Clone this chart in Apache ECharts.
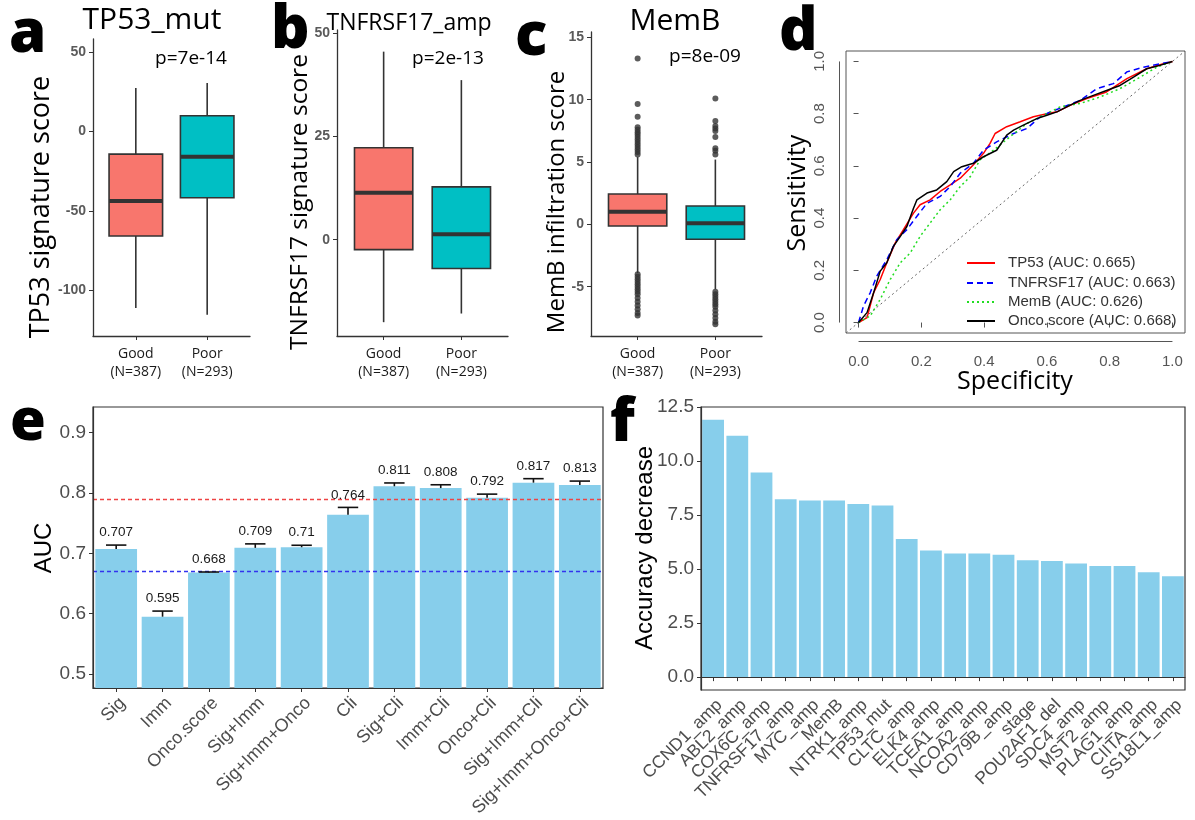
<!DOCTYPE html>
<html>
<head>
<meta charset="utf-8">
<script src="https://cdn.jsdelivr.net/npm/echarts@6/dist/echarts.min.js"></script>
<style>
html,body{margin:0;padding:0;background:#fff;}
#chart{width:1195px;height:820px;}
</style>
</head>
<body>
<div id="chart"></div>
<script>
// ---------- DATA ----------
const boxCategories = ['Good\n(N=387)', 'Poor\n(N=293)'];
const boxFill = ['#F8766D', '#00BFC4'];
// [min, Q1, median, Q3, max]
const tp53Stats = [[-111.0, -65.7, -43.7, -14.2, 27.4], [-115.2, -41.6, -15.8, 9.9, 30.5]];
const tnfStats = [[-20.0, -2.4, 11.4, 22.3, 45.6], [-17.9, -7.0, 1.3, 12.8, 38.7]];
const membStats = [[-3.9, -0.13, 1.02, 2.44, 5.4], [-5.2, -1.19, 0.09, 1.48, 5.2]];
const membGoodOutliers = [13.3, 9.65, 8.64, 7.8, 7.6, 7.4, 7.2, 7.0, 6.8, 6.6, 6.4, 6.2, 6.0, 5.8, 5.6,
  -4.0, -4.2, -4.4, -4.6, -4.8, -5.0, -5.2, -5.4, -5.6, -5.9, -6.2, -6.5, -6.8, -7.1, -7.3];
const membPoorOutliers = [10.1, 8.3, 7.9, 7.7, 7.5, 7.0, 6.1, 5.9, 5.6,
  -5.4, -5.6, -5.8, -6.0, -6.2, -6.4, -6.6, -6.9, -7.2, -7.5, -7.8, -8.0];
const tp53Ticks = [-100, -50, 0, 50];
const tnfTicks = [0, 25, 50];
const membTicks = [-5, 0, 5, 10, 15];
const pValues = ['p=7e-14', 'p=2e-13', 'p=8e-09'];
const boxTitles = ['TP53_mut', 'TNFRSF17_amp', 'MemB'];
const boxYTitles = ['TP53 signature score', 'TNFRSF17 signature score', 'MemB infiltration score'];

// ROC curves [x, sensitivity]
const rocTP53 = [[0,0],[0.027,0.019],[0.037,0.064],[0.048,0.114],[0.069,0.165],[0.09,0.229],[0.117,0.305],[0.143,0.356],[0.175,0.419],[0.196,0.451],[0.228,0.47],[0.26,0.502],[0.292,0.527],[0.324,0.553],[0.366,0.604],[0.398,0.648],[0.419,0.686],[0.435,0.724],[0.472,0.75],[0.515,0.769],[0.557,0.788],[0.6,0.8],[0.632,0.807],[0.674,0.832],[0.727,0.858],[0.79,0.883],[0.855,0.934],[0.918,0.972],[0.971,0.991],[1,1]];
const rocTNF = [[0,0],[0.016,0.064],[0.037,0.114],[0.058,0.178],[0.09,0.241],[0.122,0.318],[0.154,0.356],[0.186,0.407],[0.218,0.457],[0.26,0.483],[0.292,0.521],[0.324,0.572],[0.366,0.61],[0.398,0.66],[0.44,0.692],[0.494,0.724],[0.536,0.743],[0.579,0.788],[0.611,0.807],[0.653,0.826],[0.706,0.851],[0.759,0.896],[0.812,0.915],[0.855,0.96],[0.908,0.978],[0.96,0.991],[1,1]];
const rocMemB = [[0,0],[0.037,0.025],[0.069,0.089],[0.101,0.165],[0.133,0.229],[0.165,0.267],[0.196,0.33],[0.228,0.381],[0.26,0.432],[0.292,0.47],[0.324,0.521],[0.356,0.559],[0.387,0.623],[0.43,0.66],[0.483,0.712],[0.536,0.762],[0.589,0.794],[0.642,0.826],[0.706,0.839],[0.77,0.864],[0.833,0.896],[0.897,0.94],[0.95,0.978],[1,1]];
const rocOnco = [[0,0],[0.027,0.038],[0.048,0.114],[0.069,0.197],[0.09,0.229],[0.111,0.292],[0.133,0.33],[0.154,0.368],[0.175,0.438],[0.186,0.47],[0.218,0.496],[0.249,0.508],[0.281,0.54],[0.303,0.578],[0.329,0.597],[0.366,0.61],[0.398,0.635],[0.44,0.66],[0.472,0.718],[0.494,0.737],[0.525,0.756],[0.568,0.781],[0.6,0.794],[0.632,0.807],[0.663,0.826],[0.706,0.851],[0.748,0.87],[0.79,0.889],[0.833,0.908],[0.876,0.94],[0.918,0.972],[0.96,0.985],[1,1]];
const rocNames = ['TP53 (AUC: 0.665)', 'TNFRSF17 (AUC: 0.663)', 'MemB (AUC: 0.626)', 'Onco.score (AUC: 0.668)'];
const rocColors = ['#ff0000', '#0000ff', '#22dd22', '#000000'];
const rocTicks = [0, 0.2, 0.4, 0.6, 0.8, 1.0];

// AUC panel
const aucCats = ['Sig', 'Imm', 'Onco.score', 'Sig+Imm', 'Sig+Imm+Onco', 'Cli', 'Sig+Cli', 'Imm+Cli', 'Onco+Cli', 'Sig+Imm+Cli', 'Sig+Imm+Onco+Cli'];
const aucValues = [0.707, 0.595, 0.668, 0.709, 0.71, 0.764, 0.811, 0.808, 0.792, 0.817, 0.813];
const aucErr = [0.0066, 0.0093, 0.001, 0.0066, 0.0033, 0.012, 0.0055, 0.0055, 0.006, 0.0066, 0.0066];
const aucRefRed = 0.792;
const aucRefBlue = 0.668;
const aucTicks = [0.5, 0.6, 0.7, 0.8, 0.9];

// Importance panel
const impCats = ['CCND1_amp', 'ABL2_amp', 'COX6C_amp', 'TNFRSF17_amp', 'MYC_amp', 'MemB', 'NTRK1_amp', 'TP53_mut', 'CLTC_amp', 'ELK4_amp', 'TCEA1_amp', 'NCOA2_amp', 'CD79B_amp', 'stage', 'POU2AF1_del', 'SDC4_amp', 'MST2_amp', 'PLAG1_amp', 'CIITA_amp', 'SS18L1_amp'];
const impValues = [11.91, 11.17, 9.47, 8.23, 8.18, 8.18, 8.01, 7.94, 6.40, 5.86, 5.72, 5.72, 5.66, 5.41, 5.38, 5.26, 5.15, 5.15, 4.86, 4.67];
const impTicks = [0, 2.5, 5, 7.5, 10, 12.5];

// ---------- CHART ----------
const chart = echarts.init(document.getElementById('chart'), null, {renderer: 'canvas'});
const SANS = 'Liberation Sans';
const OPEN = 'Open Sans';

const grids = [
  {left: 93, top: 39, width: 157, height: 297},
  {left: 337, top: 30, width: 171, height: 306},
  {left: 591, top: 32, width: 171, height: 304},
  {left: 846, top: 51, width: 339, height: 282, show: true, borderColor: '#555', borderWidth: 1},
  {left: 93, top: 407, width: 510, height: 281, show: true, borderColor: '#333', borderWidth: 1.2},
  {left: 701, top: 407, width: 484, height: 283, show: true, borderColor: '#333', borderWidth: 1.2}
];

function boxXAxis(gi) {
  return {gridIndex: gi, type: 'value', min: 0.4, max: 2.6, splitLine: {show: false},
    axisLine: {show: true, onZero: false, lineStyle: {color: '#333', width: 1.3}},
    axisTick: {show: true, customValues: [1, 2], length: 4, lineStyle: {color: '#333'}},
    axisLabel: {customValues: [1, 2], formatter: v => boxCategories[Math.round(v) - 1],
      color: '#1a1a1a', fontSize: 14, fontFamily: OPEN, lineHeight: 18, margin: 9}};
}
function boxYAxis(gi, min, max, ticks) {
  return {gridIndex: gi, type: 'value', min: min, max: max, splitLine: {show: false},
    axisLine: {show: true, onZero: false, lineStyle: {color: '#333', width: 1.3}},
    axisTick: {show: true, customValues: ticks, length: 4, lineStyle: {color: '#333'}},
    axisLabel: {customValues: ticks, color: '#5a5a5a', fontWeight: 'bold', fontSize: 14, fontFamily: SANS, margin: 7}};
}

function boxRender(params, api) {
  const x = api.value(0);
  const pMin = api.coord([x, api.value(1)]);
  const pQ1 = api.coord([x, api.value(2)]);
  const pMed = api.coord([x, api.value(3)]);
  const pQ3 = api.coord([x, api.value(4)]);
  const pMax = api.coord([x, api.value(5)]);
  const hw = api.size([0.75, 0])[0] / 2;
  const fill = boxFill[params.dataIndex];
  const st = {stroke: '#333', lineWidth: 1.6};
  return {type: 'group', children: [
    {type: 'line', shape: {x1: pMin[0], y1: pMin[1], x2: pQ1[0], y2: pQ1[1]}, style: st},
    {type: 'line', shape: {x1: pQ3[0], y1: pQ3[1], x2: pMax[0], y2: pMax[1]}, style: st},
    {type: 'rect', shape: {x: pQ3[0] - hw, y: pQ3[1], width: 2 * hw, height: pQ1[1] - pQ3[1]}, style: {fill: fill, stroke: '#333', lineWidth: 1.6}},
    {type: 'line', shape: {x1: pMed[0] - hw, y1: pMed[1], x2: pMed[0] + hw, y2: pMed[1]}, style: {stroke: '#333', lineWidth: 4}}
  ]};
}
function boxData(stats) { return stats.map((s, i) => [i + 1].concat(s)); }

const catLabel = {interval: 0, rotate: 45, align: 'right', verticalAlign: 'top', fontSize: 18, color: '#4d4d4d', fontFamily: SANS, margin: 6};
const xAxes = [
  boxXAxis(0), boxXAxis(1), boxXAxis(2),
  {gridIndex: 3, type: 'value', min: -0.04, max: 1.04, offset: 8.5, splitLine: {show: false},
    axisLine: {show: false},
    axisTick: {show: true, customValues: rocTicks, length: 5, lineStyle: {color: '#555'}},
    axisLabel: {customValues: rocTicks, formatter: v => v.toFixed(1), fontSize: 15, color: '#555', fontFamily: SANS, margin: 13}},
  {gridIndex: 4, type: 'category', data: aucCats, z: 5,
    axisLine: {show: true, lineStyle: {color: '#333', width: 1.2}},
    axisTick: {show: true, alignWithLabel: true, length: 4, lineStyle: {color: '#333'}},
    axisLabel: catLabel},
  {gridIndex: 5, type: 'category', data: impCats, z: 5,
    axisLine: {show: true, lineStyle: {color: '#333', width: 1.2}},
    axisTick: {show: true, alignWithLabel: true, length: 4, lineStyle: {color: '#333'}},
    axisLabel: Object.assign({}, catLabel, {fontSize: 17.5})}
];
const yAxes = [
  boxYAxis(0, -128.6, 58.2, tp53Ticks),
  boxYAxis(1, -23.35, 50.85, tnfTicks),
  boxYAxis(2, -8.95, 15.43, membTicks),
  {gridIndex: 3, type: 'value', min: -0.04, max: 1.04, offset: 6.5, splitLine: {show: false},
    axisLine: {show: false},
    axisTick: {show: true, customValues: rocTicks, length: 5, lineStyle: {color: '#555'}},
    axisLabel: {customValues: rocTicks, formatter: v => v.toFixed(1), rotate: 90, fontSize: 15, color: '#555', fontFamily: SANS, margin: 12}},
  {gridIndex: 4, type: 'value', min: 0.4769, max: 0.9423, splitLine: {show: false}, z: 5,
    axisLine: {show: true, lineStyle: {color: '#333', width: 1.2}},
    axisTick: {show: true, customValues: aucTicks, length: 4, lineStyle: {color: '#333'}},
    axisLabel: {customValues: aucTicks, formatter: v => v.toFixed(1), fontSize: 19, color: '#4d4d4d', fontFamily: SANS, margin: 7}},
  {gridIndex: 5, type: 'value', min: -0.5955, max: 12.5055, splitLine: {show: false}, z: 5,
    axisLine: {show: true, lineStyle: {color: '#333', width: 1.2}},
    axisTick: {show: true, customValues: impTicks, length: 4, lineStyle: {color: '#333'}},
    axisLabel: {customValues: impTicks, formatter: v => v.toFixed(1), fontSize: 19, color: '#4d4d4d', fontFamily: SANS, margin: 7}}
];

const series = [];
[tp53Stats, tnfStats, membStats].forEach((st, gi) => {
  series.push({type: 'custom', xAxisIndex: gi, yAxisIndex: gi, renderItem: boxRender,
    encode: {x: 0, y: [1, 2, 3, 4, 5]}, data: boxData(st), z: 2});
});
series.push({type: 'scatter', xAxisIndex: 2, yAxisIndex: 2, symbolSize: 6, z: 3,
  itemStyle: {color: '#333'},
  data: membGoodOutliers.map(v => [1, v]).concat(membPoorOutliers.map(v => [2, v]))});

// ROC
const axMin = -0.04, axMax = 1.04;
series.push({type: 'line', xAxisIndex: 3, yAxisIndex: 3, showSymbol: false, symbol: 'none', z: 1,
  data: [[axMin, axMin], [axMax, axMax]], lineStyle: {color: '#666', width: 1, type: [2, 3]}});
const rocSets = [rocTP53, rocTNF, rocMemB, rocOnco];
const rocDash = ['solid', [6, 4], [2, 3], 'solid'];
[0, 1, 2, 3].forEach(i => {
  series.push({type: 'line', name: rocNames[i], xAxisIndex: 3, yAxisIndex: 3, showSymbol: false, symbol: 'none', z: 2,
    data: rocSets[i], lineStyle: {color: rocColors[i], width: 1.5, type: rocDash[i]}});
});

// AUC bars (red reference line)
series.push({type: 'bar', xAxisIndex: 4, yAxisIndex: 4, data: aucValues, barCategoryGap: '10%',
  itemStyle: {color: '#87CEEB'}, z: 2,
  markLine: {silent: true, symbol: ['none', 'none'], label: {show: false}, z: 4,
    lineStyle: {color: '#ee4444', width: 1.4, type: [4, 3]},
    data: [{yAxis: aucRefRed, lineStyle: {color: '#ee4444', width: 1.4, type: [4, 3]}}]}});
// invisible points carrying the blue reference line
series.push({type: 'scatter', xAxisIndex: 4, yAxisIndex: 4, symbolSize: 0, silent: true, z: 4,
  itemStyle: {color: '#3333ee', opacity: 0},
  data: aucValues.map((v, i) => [i, v]),
  markLine: {silent: true, symbol: ['none', 'none'], label: {show: false}, z: 4,
    lineStyle: {color: '#3333ee', width: 1.4, type: [4, 3], opacity: 1},
    data: [{yAxis: aucRefBlue, lineStyle: {color: '#3333ee', width: 1.4, type: [4, 3], opacity: 1}}]}});
// error bars + value labels
series.push({type: 'custom', xAxisIndex: 4, yAxisIndex: 4, z: 6, clip: false,
  encode: {x: 0, y: 1},
  data: aucValues.map((v, i) => [i, v, aucErr[i]]),
  renderItem: function (params, api) {
    const i = api.value(0), v = api.value(1), e = api.value(2);
    const pV = api.coord([i, v]);
    const pT = api.coord([i, v + e]);
    const cw = api.size([1, 0])[0] * 0.22;
    return {type: 'group', children: [
      {type: 'line', shape: {x1: pV[0], y1: pV[1], x2: pT[0], y2: pT[1]}, style: {stroke: '#111', lineWidth: 1.6}},
      {type: 'line', shape: {x1: pT[0] - cw, y1: pT[1], x2: pT[0] + cw, y2: pT[1]}, style: {stroke: '#111', lineWidth: 1.6}},
      {type: 'text', x: pT[0], y: pT[1] - 12.5, style: {text: String(aucValues[i]), fill: '#1a1a1a', fontSize: 13.5, fontFamily: SANS,
        align: 'center', verticalAlign: 'middle', textAlign: 'center', textVerticalAlign: 'middle'}}
    ]};
  }});

// Importance bars
series.push({type: 'bar', xAxisIndex: 5, yAxisIndex: 5, data: impValues, barCategoryGap: '10%',
  itemStyle: {color: '#87CEEB'}, z: 2});

// ---------- TEXT / DECORATION ----------
function txt(text, x, y, size, opts) {
  opts = opts || {};
  return {type: 'text', x: x, y: y, rotation: opts.rot || 0, z: 100,
    style: {text: text, fill: opts.color || '#000', fontSize: size, fontFamily: opts.font || OPEN,
      fontWeight: opts.weight || 'normal',
      align: opts.align || 'center', verticalAlign: 'middle',
      textAlign: opts.align || 'center', textVerticalAlign: 'middle'}};
}
const graphics = [];
// panel letters
[['a', 9, 35, 60], ['b', 271, 31, 60], ['c', 515, 38, 60], ['d', 779, 33, 60], ['e', 10, 423, 58], ['f', 610, 424, 60]].forEach(l => {
  graphics.push(txt(l[0], l[1], l[2], l[3], {weight: 800, align: 'left'}));
});
// titles
graphics.push(txt(boxTitles[0], 152, 20, 30));
graphics.push(txt(boxTitles[1], 409, 23, 23));
graphics.push(txt(boxTitles[2], 675, 21, 30));
// p values
graphics.push(txt(pValues[0], 191, 59, 19));
graphics.push(txt(pValues[1], 448, 59, 19));
graphics.push(txt(pValues[2], 705, 57, 19));
// y titles for box plots
graphics.push(txt(boxYTitles[0], 41, 207, 27, {rot: Math.PI / 2}));
graphics.push(txt(boxYTitles[1], 300, 202, 24.5, {rot: Math.PI / 2}));
graphics.push(txt(boxYTitles[2], 557, 202, 24, {rot: Math.PI / 2}));
// ROC axis titles
graphics.push(txt('Sensitivity', 798, 193, 25, {rot: Math.PI / 2}));
graphics.push(txt('Specificity', 1015, 382, 25));
// AUC / importance titles
graphics.push(txt('AUC', 44, 548, 24, {rot: Math.PI / 2, font: SANS}));
graphics.push(txt('Accuracy decrease', 645, 548, 24, {rot: Math.PI / 2, font: SANS}));
// ROC legend
const legY = [263, 283, 302, 321];
const legDash = [null, [6, 4], [2, 3], null];
rocNames.forEach((n, i) => {
  graphics.push({type: 'line', z: 100, shape: {x1: 967, y1: legY[i], x2: 995, y2: legY[i]},
    style: {stroke: rocColors[i], lineWidth: 2, lineDash: legDash[i]}});
  graphics.push(txt(n, 1008, legY[i], 15, {font: SANS, align: 'left', color: '#333'}));
});

chart.setOption({
  backgroundColor: '#fff',
  animation: false,
  grid: grids,
  xAxis: xAxes,
  yAxis: yAxes,
  series: series,
  graphic: graphics
});

// ROC axis lines (offset from box, spanning 0..1 like base R)
const p0 = chart.convertToPixel({gridIndex: 3}, [0, 0]);
const p1 = chart.convertToPixel({gridIndex: 3}, [1, 1]);
const g3 = grids[3];
graphics.push({type: 'line', z: 100, shape: {x1: p0[0], y1: g3.top + g3.height + 8.5, x2: p1[0], y2: g3.top + g3.height + 8.5}, style: {stroke: '#555', lineWidth: 1}});
graphics.push({type: 'line', z: 100, shape: {x1: g3.left - 6.5, y1: p0[1], x2: g3.left - 6.5, y2: p1[1]}, style: {stroke: '#555', lineWidth: 1}});
chart.setOption({graphic: graphics});
</script>
</body>
</html>
